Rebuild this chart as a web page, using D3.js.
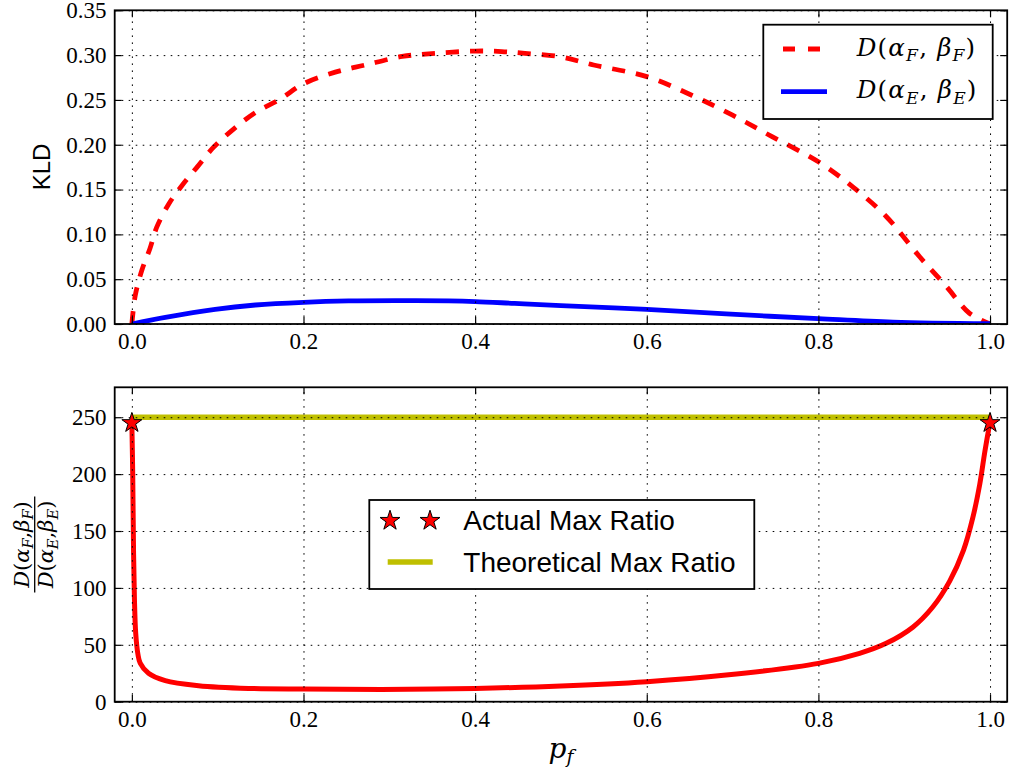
<!DOCTYPE html>
<html>
<head>
<meta charset="utf-8">
<script src="https://cdn.jsdelivr.net/npm/d3@7"></script>
<style>
  html, body { margin: 0; padding: 0; background: #fff; }
  svg { display: block; }
</style>
</head>
<body>
<svg id="chart" width="1011" height="774"></svg>
<script>
// ---------- data ----------
const pfF = [0, 0.004, 0.012, 0.021, 0.029, 0.043, 0.058, 0.076, 0.095, 0.1185, 0.144, 0.173, 0.2, 0.237, 0.272, 0.315, 0.354, 0.4, 0.431, 0.458, 0.5, 0.538, 0.6, 0.653, 0.7, 0.746, 0.8, 0.84, 0.879, 0.918, 0.949, 0.976, 1.0];
const kldF = [0, 0.032, 0.061, 0.084, 0.108, 0.134, 0.154, 0.175, 0.197, 0.2175, 0.236, 0.251, 0.268, 0.281, 0.289, 0.2985, 0.302, 0.3045, 0.304, 0.302, 0.298, 0.289, 0.276, 0.255, 0.233, 0.209, 0.181, 0.153, 0.12, 0.075, 0.042, 0.012, 0];

const pfE = [0, 0.039, 0.097, 0.144, 0.2, 0.2525, 0.311, 0.369, 0.4, 0.446, 0.5, 0.6, 0.6925, 0.8, 0.887, 1.0];
const kldE = [0, 0.0074, 0.0164, 0.0212, 0.0242, 0.0257, 0.026, 0.0257, 0.025, 0.023, 0.0206, 0.0164, 0.0112, 0.006, 0.0022, 0.0003];

const pfR = [0, 0.001, 0.002, 0.003, 0.0045, 0.007, 0.0097, 0.0194, 0.0389, 0.0777, 0.136, 0.2, 0.291, 0.4, 0.5, 0.6, 0.6925, 0.8, 0.848, 0.879, 0.91, 0.933, 0.953, 0.969, 0.98, 0.988, 0.994, 1.0];
const ratio = [245, 200, 130, 90, 60, 42, 34, 25, 18.5, 14.1, 11.7, 11.1, 10.8, 11.7, 13.8, 17.6, 23.4, 33.7, 42.5, 51.3, 65.5, 83, 106, 133, 162, 191, 220, 246];

const theoX = [0, 1];
const theoY = [250, 250];
const starX = [0, 1];
const starY = [245, 245];

const xTickVals = [0, 0.2, 0.4, 0.6, 0.8, 1.0];
const yTickTop = [0, 0.05, 0.10, 0.15, 0.20, 0.25, 0.30, 0.35];
const yTickBot = [0, 50, 100, 150, 200, 250];

const legendTop = ["F", "E"];
const legendBot = ["Actual Max Ratio", "Theoretical Max Ratio"];

// ---------- layout ----------
const svg = d3.select("#chart");
svg.append("rect").attr("width", 1011).attr("height", 774).attr("fill", "#fff");

const L = 114.7, R = 1007.2;
const top1 = 10.3, bot1 = 324;
const top2 = 387.3, bot2 = 701.7;

const x = d3.scaleLinear().domain([-0.02, 1.02]).range([L, R]);
const y1 = d3.scaleLinear().domain([0, 0.35]).range([bot1, top1]);
const y2 = d3.scaleLinear().domain([0, 276.3]).range([bot2, top2]);

const serif = "'Liberation Serif', 'Times New Roman', serif";
const mathFont = "'DejaVu Serif', 'Liberation Serif', serif";
const sans = "'Liberation Sans', Arial, Helvetica, sans-serif";

function clip(id, t, b) {
  svg.append("clipPath").attr("id", id).append("rect")
    .attr("x", L).attr("y", t).attr("width", R - L).attr("height", b - t);
}
clip("c1", top1, bot1);
clip("c2", top2, bot2);

// math label builder: D(α_sub, β_sub)
function mathD(textSel, sub, size, sep) {
  const subSize = size * 0.7;
  textSel.append("tspan").attr("font-style", "italic").text("D");
  textSel.append("tspan").text("(");
  textSel.append("tspan").attr("font-style", "italic").text("α");
  textSel.append("tspan").attr("font-style", "italic").attr("font-size", subSize).attr("dy", size * 0.22).text(sub);
  textSel.append("tspan").attr("dy", -size * 0.22).text(sep);
  textSel.append("tspan").attr("font-style", "italic").text("β");
  textSel.append("tspan").attr("font-style", "italic").attr("font-size", subSize).attr("dy", size * 0.22).text(sub);
  textSel.append("tspan").attr("dy", -size * 0.22).text(")");
}

function frame(yScale, yTicks, t, b, yFmt) {
  const g = svg.append("g");
  // grid
  g.append("g").attr("transform", `translate(0,${b})`)
    .call(d3.axisBottom(x).tickValues(xTickVals).tickSize(-(b - t)).tickFormat(""))
    .call(s => s.select(".domain").remove())
    .selectAll("line").attr("stroke", "#000").attr("stroke-width", 1).attr("stroke-dasharray", "1.6,5.4");
  g.append("g").attr("transform", `translate(${L},0)`)
    .call(d3.axisLeft(yScale).tickValues(yTicks).tickSize(-(R - L)).tickFormat(""))
    .call(s => s.select(".domain").remove())
    .selectAll("line").attr("stroke", "#000").attr("stroke-width", 1).attr("stroke-dasharray", "1.6,5.4");
  // ticks + labels
  const ax = [
    g.append("g").attr("transform", `translate(0,${b})`)
      .call(d3.axisBottom(x).tickValues(xTickVals).tickSize(-7).tickSizeOuter(0).tickPadding(8.7).tickFormat(d3.format(".1f"))),
    g.append("g").attr("transform", `translate(0,${t})`)
      .call(d3.axisTop(x).tickValues(xTickVals).tickSize(-7).tickSizeOuter(0).tickFormat("")),
    g.append("g").attr("transform", `translate(${L},0)`)
      .call(d3.axisLeft(yScale).tickValues(yTicks).tickSize(-7).tickSizeOuter(0).tickPadding(8.2).tickFormat(yFmt)),
    g.append("g").attr("transform", `translate(${R},0)`)
      .call(d3.axisRight(yScale).tickValues(yTicks).tickSize(-7).tickSizeOuter(0).tickFormat(""))
  ];
  ax.forEach(a => {
    a.attr("font-family", serif).attr("font-size", 23);
    a.select(".domain").remove();
    a.selectAll("line").attr("stroke", "#000").attr("stroke-width", 1.2);
    a.selectAll("text").attr("font-family", serif).attr("font-size", 23).attr("fill", "#000");
  });
  g.append("rect").attr("x", L).attr("y", t).attr("width", R - L).attr("height", b - t)
    .attr("fill", "none").attr("stroke", "#000").attr("stroke-width", 1.8);
}

const smooth = d3.curveCatmullRom.alpha(0.5);

// ---------- top panel ----------
const line1 = d3.line().x(d => x(d[0])).y(d => y1(d[1])).curve(smooth);
const gTop = svg.append("g").attr("clip-path", "url(#c1)");
gTop.append("path").datum(pfF.map((v, i) => [v, kldF[i]])).attr("d", line1)
  .attr("fill", "none").attr("stroke", "#ff0000").attr("stroke-width", 4.8).attr("stroke-dasharray", "13,11");
gTop.append("path").datum(pfE.map((v, i) => [v, kldE[i]])).attr("d", line1)
  .attr("fill", "none").attr("stroke", "#0000ff").attr("stroke-width", 4.8);

frame(y1, yTickTop, top1, bot1, d3.format(".2f"));

svg.append("text").attr("transform", "translate(50,167) rotate(-90)")
  .attr("text-anchor", "middle").attr("font-family", sans).attr("font-size", 24).text("KLD");

// top legend
const lg1 = svg.append("g");
lg1.append("rect").attr("x", 763.3).attr("y", 24.7).attr("width", 229.4).attr("height", 94.3)
  .attr("fill", "#fff").attr("stroke", "#000").attr("stroke-width", 1.8);
lg1.append("line").attr("x1", 783).attr("x2", 827).attr("y1", 49).attr("y2", 49)
  .attr("stroke", "#ff0000").attr("stroke-width", 4.8).attr("stroke-dasharray", "12,13");
lg1.append("line").attr("x1", 781).attr("x2", 827).attr("y1", 91.7).attr("y2", 91.7)
  .attr("stroke", "#0000ff").attr("stroke-width", 4.8);
legendTop.forEach((s, i) => {
  const t = lg1.append("text").attr("x", 856.7).attr("y", i === 0 ? 56 : 98.3)
    .attr("font-family", mathFont).attr("font-size", 24.5).attr("letter-spacing", 1.2);
  mathD(t, s, 24.5, ", ");
});

// ---------- bottom panel ----------
const line2 = d3.line().x(d => x(d[0])).y(d => y2(d[1])).curve(smooth);
const gBot = svg.append("g").attr("clip-path", "url(#c2)");
gBot.append("path").datum(theoX.map((v, i) => [v, theoY[i]])).attr("d", d3.line().x(d => x(d[0])).y(d => y2(d[1])))
  .attr("fill", "none").attr("stroke", "#bfbf00").attr("stroke-width", 5.5);
gBot.append("path").datum(pfR.map((v, i) => [v, ratio[i]])).attr("d", line2)
  .attr("fill", "none").attr("stroke", "#ff0000").attr("stroke-width", 5).attr("stroke-linejoin", "round");

frame(y2, yTickBot, top2, bot2, d3.format("d"));

const star = d3.symbol().type(d3.symbolStar).size(124);
svg.append("g").selectAll("path").data(starX.map((v, i) => [v, starY[i]])).join("path")
  .attr("d", star).attr("transform", d => `translate(${x(d[0])},${y2(d[1])})`)
  .attr("fill", "#ff0000").attr("stroke", "#000").attr("stroke-width", 1);

// bottom legend
const lg2 = svg.append("g");
lg2.append("rect").attr("x", 369.3).attr("y", 500).attr("width", 385).attr("height", 89)
  .attr("fill", "#fff").attr("stroke", "#000").attr("stroke-width", 1.8);
[390, 430].forEach(cx => {
  lg2.append("path").attr("d", star).attr("transform", `translate(${cx},520.7)`)
    .attr("fill", "#ff0000").attr("stroke", "#000").attr("stroke-width", 1);
});
lg2.append("line").attr("x1", 387.7).attr("x2", 432.7).attr("y1", 562).attr("y2", 562)
  .attr("stroke", "#bfbf00").attr("stroke-width", 5.5);
legendBot.forEach((s, i) => {
  lg2.append("text").attr("x", 463.3).attr("y", i === 0 ? 530 : 571.7)
    .attr("font-family", sans).attr("font-size", 28).text(s);
});

// x label p_f
const xl = svg.append("text").attr("x", (L + R) / 2).attr("y", 758).attr("text-anchor", "middle")
  .attr("font-family", mathFont).attr("font-size", 28).attr("font-style", "italic");
xl.append("tspan").text("p");
xl.append("tspan").attr("font-size", 19).attr("dy", 5).text("f");

// y label fraction (bottom)
const yl = svg.append("g").attr("transform", `translate(34.7,${(top2 + bot2) / 2}) rotate(-90)`);
const num = yl.append("text").attr("x", 0).attr("y", -6).attr("text-anchor", "middle")
  .attr("font-family", mathFont).attr("font-size", 21);
mathD(num, "F", 21, ",");
const den = yl.append("text").attr("x", 0).attr("y", 18.5).attr("text-anchor", "middle")
  .attr("font-family", mathFont).attr("font-size", 21);
mathD(den, "E", 21, ",");
yl.append("line").attr("x1", -48).attr("x2", 48).attr("y1", 0).attr("y2", 0)
  .attr("stroke", "#000").attr("stroke-width", 1.3);
</script>
</body>
</html>
